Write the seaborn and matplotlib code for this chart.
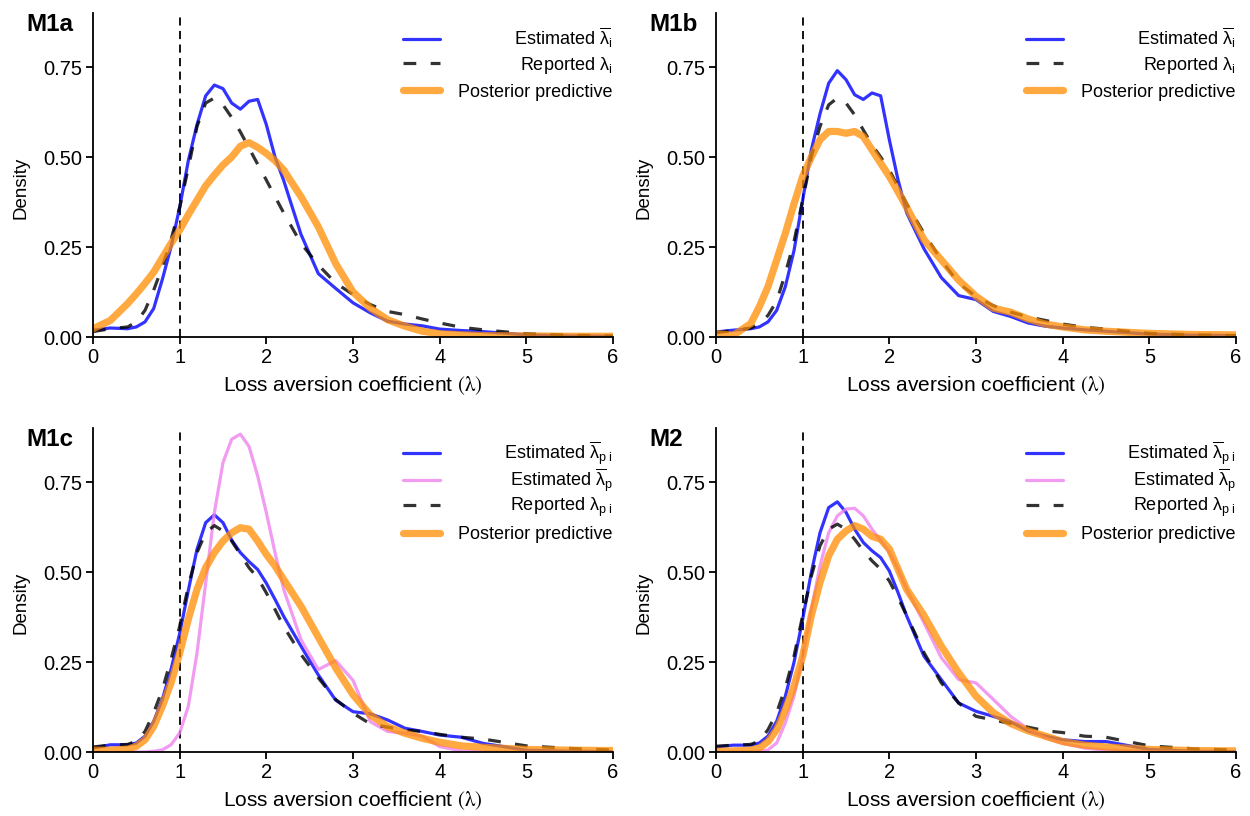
import numpy as np
import pandas as pd
import matplotlib
matplotlib.use("Agg")
import matplotlib.pyplot as plt
import seaborn as sns
from matplotlib.font_manager import FontProperties
from matplotlib.legend import Legend

sns.set_style("ticks")
plt.rcParams["font.family"] = ["Liberation Sans", "DejaVu Sans"]
plt.rcParams["mathtext.fontset"] = "custom"
plt.rcParams["mathtext.rm"] = "Liberation Sans"
plt.rcParams["mathtext.it"] = "Liberation Sans"
plt.rcParams["mathtext.bf"] = "Liberation Sans:bold"
for k in ["text.color", "axes.labelcolor", "xtick.color", "ytick.color", "axes.edgecolor"]:
    plt.rcParams[k] = "black"

# ---------------- data ----------------
X = [0, 0.2, 0.4, 0.5, 0.6, 0.7, 0.8, 0.9, 1.0, 1.1, 1.2, 1.3, 1.4, 1.5, 1.6, 1.7, 1.8, 1.9,
     2.0, 2.1, 2.2, 2.4, 2.6, 2.8, 3.0, 3.2, 3.4, 3.6, 3.8, 4.0, 4.25, 4.5, 5.0, 5.5, 6.0]

m1a_est = [0.019, 0.025, 0.023, 0.028, 0.042, 0.079, 0.16, 0.25, 0.36, 0.49, 0.59, 0.67, 0.70, 0.69, 0.65, 0.633, 0.655, 0.66,
           0.59, 0.50, 0.435, 0.285, 0.176, 0.135, 0.095, 0.067, 0.044, 0.036, 0.031, 0.022, 0.018, 0.015, 0.006, 0.003, 0.002]
m1a_rep = [0.015, 0.023, 0.028, 0.042, 0.074, 0.13, 0.195, 0.27, 0.36, 0.47, 0.585, 0.65, 0.664, 0.645, 0.61, 0.57, 0.525, 0.48,
           0.436, 0.39, 0.345, 0.26, 0.20, 0.15, 0.118, 0.09, 0.071, 0.062, 0.05, 0.039, 0.027, 0.02, 0.009, 0.005, 0.003]
m1a_post = [0.023, 0.046, 0.093, 0.12, 0.149, 0.18, 0.22, 0.26, 0.297, 0.34, 0.38, 0.42, 0.45, 0.478, 0.50, 0.53, 0.54, 0.527,
            0.51, 0.49, 0.464, 0.39, 0.306, 0.204, 0.125, 0.08, 0.048, 0.03, 0.016, 0.009, 0.006, 0.004, 0.003, 0.002, 0.002]

m1b_est = [0.014, 0.019, 0.023, 0.028, 0.042, 0.074, 0.14, 0.24, 0.38, 0.52, 0.62, 0.705, 0.74, 0.715, 0.673, 0.66, 0.678, 0.67,
           0.548, 0.437, 0.345, 0.245, 0.165, 0.115, 0.104, 0.071, 0.057, 0.039, 0.03, 0.025, 0.02, 0.016, 0.008, 0.005, 0.004]
m1b_rep = [0.012, 0.018, 0.025, 0.037, 0.06, 0.10, 0.176, 0.265, 0.38, 0.50, 0.585, 0.645, 0.664, 0.65, 0.617, 0.575, 0.534, 0.50,
           0.464, 0.418, 0.37, 0.288, 0.214, 0.149, 0.113, 0.087, 0.069, 0.056, 0.046, 0.036, 0.027, 0.022, 0.01, 0.006, 0.004]
m1b_post = [0.009, 0.005, 0.037, 0.084, 0.14, 0.214, 0.288, 0.37, 0.446, 0.50, 0.548, 0.571, 0.571, 0.566, 0.571, 0.557, 0.52, 0.483,
            0.446, 0.404, 0.36, 0.27, 0.214, 0.158, 0.113, 0.08, 0.069, 0.05, 0.036, 0.028, 0.02, 0.016, 0.01, 0.007, 0.006]

m1c_est = [0.012, 0.021, 0.021, 0.026, 0.045, 0.086, 0.147, 0.23, 0.33, 0.45, 0.564, 0.638, 0.66, 0.638, 0.59, 0.555, 0.53, 0.508,
           0.47, 0.425, 0.378, 0.295, 0.215, 0.145, 0.113, 0.107, 0.09, 0.067, 0.058, 0.048, 0.042, 0.025, 0.006, 0.003, 0.002]
m1c_estp = [0.0, 0.0, 0.0, 0.001, 0.001, 0.003, 0.007, 0.021, 0.054, 0.128, 0.276, 0.47, 0.666, 0.805, 0.87, 0.884, 0.85, 0.768,
            0.666, 0.555, 0.453, 0.313, 0.23, 0.255, 0.2, 0.085, 0.058, 0.053, 0.045, 0.016, 0.004, 0.001, 0.0, 0.0, 0.0]
m1c_rep = [0.015, 0.02, 0.022, 0.031, 0.058, 0.11, 0.174, 0.258, 0.35, 0.462, 0.555, 0.61, 0.63, 0.615, 0.587, 0.55, 0.513, 0.485,
           0.443, 0.397, 0.35, 0.272, 0.207, 0.147, 0.109, 0.079, 0.07, 0.062, 0.058, 0.05, 0.042, 0.037, 0.018, 0.011, 0.006]
m1c_post = [0.006, 0.006, 0.009, 0.017, 0.035, 0.072, 0.128, 0.193, 0.276, 0.37, 0.453, 0.513, 0.555, 0.587, 0.61, 0.624, 0.62, 0.587,
            0.55, 0.518, 0.48, 0.406, 0.32, 0.235, 0.16, 0.104, 0.071, 0.053, 0.039, 0.028, 0.018, 0.014, 0.008, 0.006, 0.005]

m2_est = [0.015, 0.02, 0.02, 0.026, 0.045, 0.086, 0.156, 0.25, 0.37, 0.50, 0.61, 0.68, 0.696, 0.667, 0.62, 0.583, 0.56, 0.541,
          0.504, 0.444, 0.379, 0.267, 0.202, 0.137, 0.114, 0.10, 0.085, 0.06, 0.045, 0.035, 0.03, 0.03, 0.008, 0.003, 0.002]
m2_estp = [0.001, 0.001, 0.001, 0.002, 0.007, 0.026, 0.082, 0.156, 0.267, 0.397, 0.518, 0.61, 0.657, 0.676, 0.678, 0.657, 0.62, 0.588,
           0.555, 0.509, 0.453, 0.36, 0.263, 0.202, 0.193, 0.147, 0.10, 0.065, 0.04, 0.025, 0.012, 0.006, 0.002, 0.001, 0.0]
m2_rep = [0.017, 0.02, 0.022, 0.031, 0.063, 0.11, 0.18, 0.267, 0.38, 0.49, 0.574, 0.62, 0.634, 0.62, 0.592, 0.56, 0.532, 0.509,
          0.476, 0.43, 0.38, 0.277, 0.193, 0.137, 0.10, 0.09, 0.08, 0.07, 0.06, 0.055, 0.045, 0.042, 0.018, 0.01, 0.006]
m2_post = [0.003, 0.004, 0.006, 0.012, 0.03, 0.063, 0.119, 0.184, 0.267, 0.38, 0.472, 0.546, 0.592, 0.615, 0.63, 0.62, 0.60, 0.592,
           0.565, 0.509, 0.453, 0.38, 0.295, 0.221, 0.156, 0.11, 0.08, 0.06, 0.045, 0.03, 0.02, 0.015, 0.008, 0.005, 0.004]

x_ticks = [0, 1, 2, 3, 4, 5, 6]
y_ticks = [0.0, 0.25, 0.50, 0.75]
y_ticklabels = ["0.00", "0.25", "0.50", "0.75"]

lab_est_i = r"Estimated $\overline{\lambda}_{\mathrm{i}}$"
lab_rep_i = r"Reported $\lambda_{\mathrm{i}}$"
lab_est_pi = r"Estimated $\overline{\lambda}_{\mathrm{p\ i}}$"
lab_est_p = r"Estimated $\overline{\lambda}_{\mathrm{p}}$"
lab_rep_pi = r"Reported $\lambda_{\mathrm{p\ i}}$"
lab_post = "Posterior predictive"

panels = [
    ("M1a", [0.0744, 0.587, 0.416, 0.397], [(m1a_est, lab_est_i, "est"), (m1a_rep, lab_rep_i, "rep"), (m1a_post, lab_post, "post")]),
    ("M1b", [0.5728, 0.587, 0.416, 0.397], [(m1b_est, lab_est_i, "est"), (m1b_rep, lab_rep_i, "rep"), (m1b_post, lab_post, "post")]),
    ("M1c", [0.0744, 0.078, 0.416, 0.397], [(m1c_est, lab_est_pi, "est"), (m1c_estp, lab_est_p, "estp"),
                                           (m1c_rep, lab_rep_pi, "rep"), (m1c_post, lab_post, "post")]),
    ("M2", [0.5728, 0.078, 0.416, 0.397], [(m2_est, lab_est_pi, "est"), (m2_estp, lab_est_p, "estp"),
                                          (m2_rep, lab_rep_pi, "rep"), (m2_post, lab_post, "post")]),
]

styles = {
    "est": dict(color="blue", alpha=0.8, lw=2.3, linestyle="-"),
    "estp": dict(color="violet", alpha=0.8, lw=2.3, linestyle="-"),
    "rep": dict(color="black", alpha=0.8, lw=2.3, linestyle=(0, (4, 4.5))),
    "post": dict(color="darkorange", alpha=0.75, lw=5.2, linestyle="-"),
}

LEG_FS = 13
fig = plt.figure(figsize=(12.5, 8.16), dpi=100)
panel_legends = []
for title, rect, series in panels:
    ax = fig.add_axes(rect)
    ax.axvline(1, color="black", lw=1.3, linestyle=(0, (4.5, 3)), zorder=1)
    for vals, lab, key in series:
        df = pd.DataFrame({"x": X, "y": vals})
        sns.lineplot(data=df, x="x", y="y", ax=ax, label=lab, estimator=None, sort=False,
                     legend=False, **styles[key])
    ax.set_xlim(0, 6)
    ax.set_ylim(0, 0.9)
    ax.set_xticks(x_ticks)
    ax.set_yticks(y_ticks)
    ax.set_yticklabels(y_ticklabels)
    for s in ["top", "right"]:
        ax.spines[s].set_visible(False)
    for s in ["left", "bottom"]:
        ax.spines[s].set_linewidth(1.3)
        ax.spines[s].set_color("black")
    ax.tick_params(axis="both", length=5, width=1.3, labelsize=14.5, pad=3, direction="out")
    ax.set_xlabel(r"Loss aversion coefficient $(\mathrm{\lambda})$", fontsize=15, labelpad=5,
                  math_fontfamily="stix")
    ax.set_ylabel("Density", fontsize=13.5)
    ax.yaxis.set_label_coords(-0.123, 0.46)
    ax.text(-0.128, 1.0, title, transform=ax.transAxes, fontsize=17.5, fontweight="bold",
            ha="left", va="top")
    if ax.get_legend() is not None:
        ax.get_legend().remove()
    handles, labels = ax.get_legend_handles_labels()
    legs = []
    for i, (h, l) in enumerate(zip(handles, labels)):
        leg = Legend(ax, [h], [l], loc="center left", bbox_to_anchor=(0.596, 0.923 - i * 0.0835),
                     frameon=False,
                     prop=FontProperties(family="Liberation Sans", size=LEG_FS, math_fontfamily="custom"),
                     handlelength=2.05, handletextpad=1.0, borderaxespad=0, borderpad=0)
        ax.add_artist(leg)
        legs.append(leg)
    panel_legends.append(legs)

fig.canvas.draw()
for legs in panel_legends:
    texts = [lg.get_texts()[0] for lg in legs]
    widths = [t.get_window_extent().width for t in texts]
    mx = max(widths)
    for t, w in zip(texts, widths):
        t.set_position((mx - w, 0))

fig.savefig("out.png", dpi=100)
